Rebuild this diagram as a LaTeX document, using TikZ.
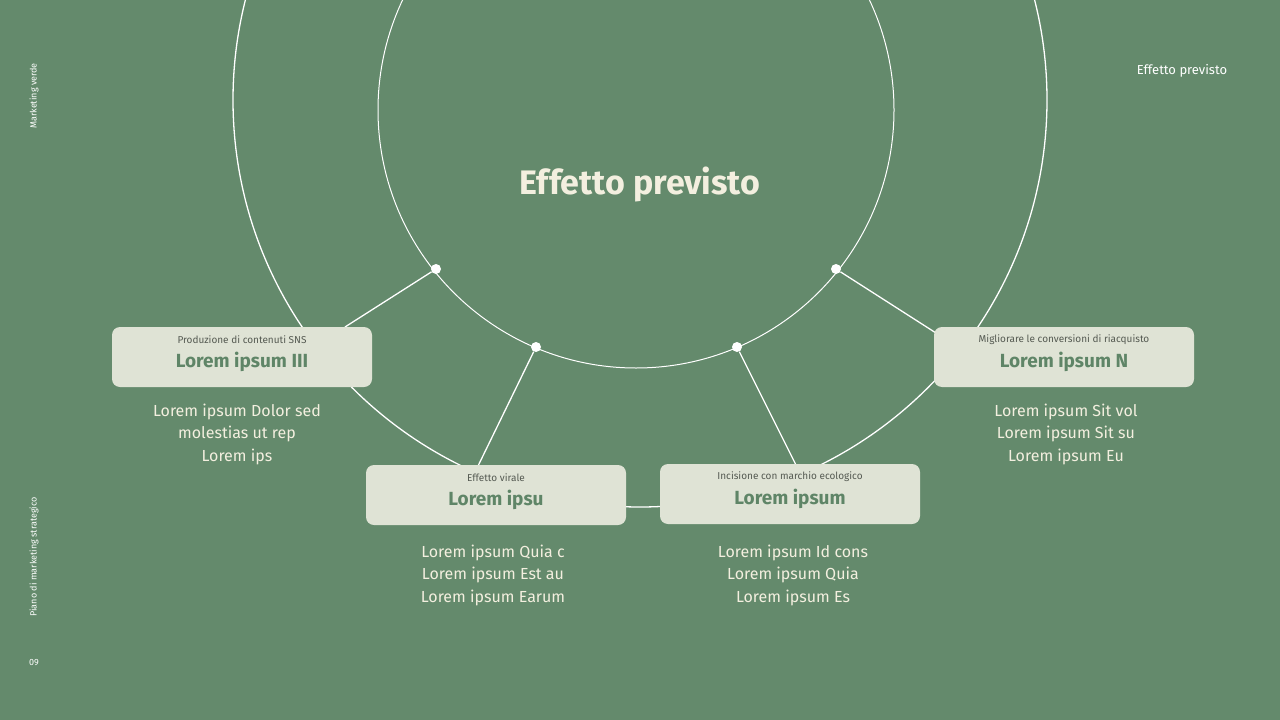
\documentclass[tikz,border=0pt]{standalone}
\usepackage{fontspec}
\setmainfont{Fira Sans}
\definecolor{bg}{HTML}{648A6C}
\definecolor{boxc}{HTML}{DFE3D5}
\definecolor{ttl}{HTML}{F3EFDF}
\definecolor{boxt}{HTML}{5F8567}
\definecolor{subt}{HTML}{555A52}
\tikzset{
 card/.style={fill=boxc,rounded corners=8pt,minimum width=260pt,minimum height=60pt,inner sep=0pt},
 body/.style={text=ttl,font=\fontsize{16}{22.5}\selectfont,align=center,anchor=north},
 dot/.style={circle,fill=white,inner sep=0pt,minimum size=10pt},
 ln/.style={white,line width=1.3pt},
 side/.style={text=white,font=\fontsize{9}{11}\selectfont}
}
\begin{document}
\begin{tikzpicture}[x=1pt,y=-1pt]
\fill[bg] (0,0) rectangle (1280,720);
\useasboundingbox (0,0) rectangle (1280,720);
\begin{scope}
\clip (0,0) rectangle (1280,720);
\draw[ln] (640,100) circle (407);
\draw[white,line width=1pt] (636,110) circle (258);
\end{scope}
\node[dot] (d1) at (436,269) {};
\node[dot] (d2) at (536,347) {};
\node[dot] (d3) at (737,347) {};
\node[dot] (d4) at (836,269) {};
\coordinate (e1) at (345,327);
\coordinate (e2) at (478,466);
\coordinate (e3) at (796,465);
\coordinate (e4) at (936,333);
\draw[ln] (d1) -- (e1);
\draw[ln] (d2) -- (e2);
\draw[ln] (d3) -- (e3);
\draw[ln] (d4) -- (e4);
\node[text=ttl,font=\fontsize{34}{40}\selectfont\bfseries] (title) at (640,184) {Effetto previsto};
\node[card] (b1) at (242,357) {};
\node[card] (b2) at (496,495) {};
\node[card] (b3) at (790,494) {};
\node[card] (b4) at (1064,357) {};
\foreach \b/\t/\s in {b1/Lorem ipsum III/Produzione di contenuti SNS,b2/Lorem ipsu/Effetto virale,b3/Lorem ipsum/Incisione con marchio ecologico,b4/Lorem ipsum N/Migliorare le conversioni di riacquisto}{
 \node[text=boxt,font=\fontsize{19}{22}\selectfont\bfseries] (\b t) at ([yshift=-5pt]\b.center) {\t};
 \node[text=subt,font=\fontsize{10}{12}\selectfont] (\b s) at ([yshift=17pt]\b.center) {\s};
}
\node[body] (t1) at (237,400) {Lorem ipsum Dolor sed\\molestias ut rep\\Lorem ips};
\node[body] (t2) at (493,541) {Lorem ipsum Quia c\\Lorem ipsum Est au\\Lorem ipsum Earum};
\node[body] (t3) at (793,541) {Lorem ipsum Id cons\\Lorem ipsum Quia\\Lorem ipsum Es};
\node[body] (t4) at (1066,400) {Lorem ipsum Sit vol\\Lorem ipsum Sit su\\Lorem ipsum Eu};
\node[side,rotate=90] (s1) at (34,96) {Marketing verde};
\node[side,rotate=90] (s2) at (34,557) {Piano di marketing strategico};
\node[side] (s3) at (34,663) {09};
\node[text=white,font=\fontsize{13}{15}\selectfont] (s4) at (1182,71) {Effetto previsto};
\end{tikzpicture}
\end{document}
